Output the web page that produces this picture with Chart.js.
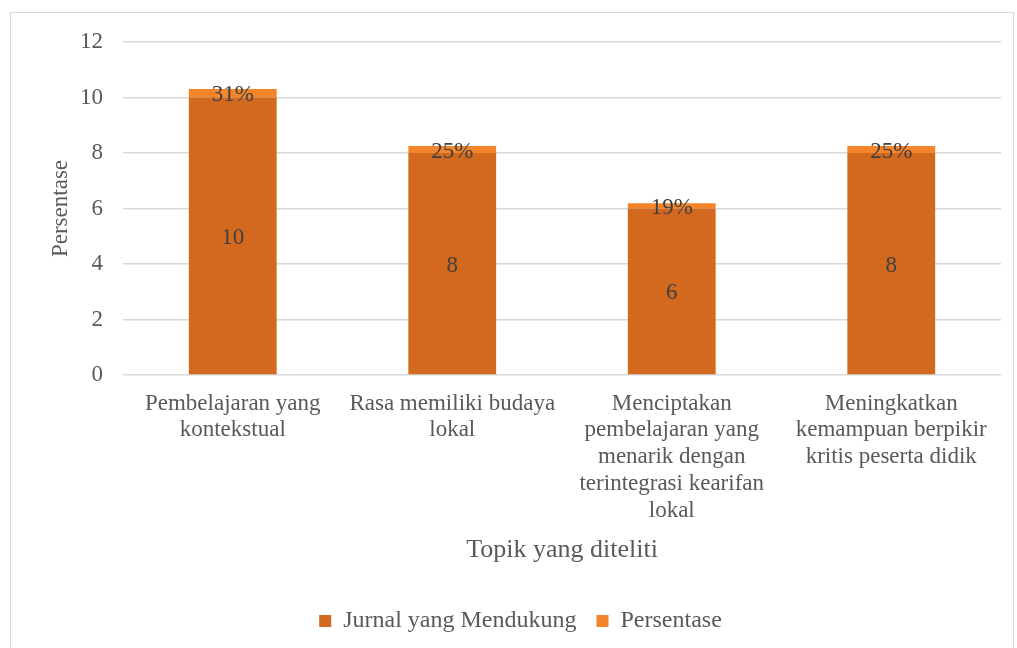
<!DOCTYPE html>
<html>
<head>
<meta charset="utf-8">
<script src="https://cdn.jsdelivr.net/npm/chart.js@4"></script>
<style>
  body { margin: 0; background: #fff; }
  #wrap { position: relative; width: 1017px; height: 648px; overflow: hidden; }
  #frame { position: absolute; left: 10px; top: 12px; width: 1004px; height: 660px; border: 1px solid #d9d9d9; box-sizing: border-box; }
  #c { position: absolute; left: 0; top: 0; }
</style>
</head>
<body>
<div id="wrap">
  <div id="frame"></div>
  <canvas id="c" width="1017" height="648"></canvas>
</div>
<script>
// data
const categories = [
    ["Pembelajaran yang", "kontekstual"],
    ["Rasa memiliki budaya", "lokal"],
    ["Menciptakan", "pembelajaran yang", "menarik dengan", "terintegrasi kearifan", "lokal"],
    ["Meningkatkan", "kemampuan berpikir", "kritis peserta didik"]
];
const jurnal = [10, 8, 6, 8];
const persentase = [0.31, 0.25, 0.19, 0.25];
const yTicks = [0, 2, 4, 6, 8, 10, 12];

const FONT = "'Liberation Serif', 'Times New Roman', serif";
const textColor = "#595959";

// tulis label di tiap batang
const barLabels = {
    id: "barLabels",
    afterDatasetsDraw(chart) {
        const ctx = chart.ctx;
        ctx.save();
        ctx.font = "23px " + FONT;
        ctx.fillStyle = "#404040";
        ctx.textAlign = "center";
        ctx.textBaseline = "middle";
        chart.data.datasets.forEach((ds, i) => {
            chart.getDatasetMeta(i).data.forEach((bar, j) => {
                const v = ds.data[j];
                const txt = i === 0 ? String(v) : Math.round(v * 100) + "%";
                const yMid = (bar.y + bar.base) / 2;
                ctx.fillText(txt, bar.x, yMid + 2);
            });
        });
        ctx.restore();
    }
};

new Chart(document.getElementById("c"), {
    type: "bar",
    data: {
        labels: categories,
        datasets: [
            { label: "Jurnal yang Mendukung", data: jurnal, backgroundColor: "#D2691E" },
            { label: "Persentase", data: persentase, backgroundColor: "#F5852A" }
        ]
    },
    options: {
        responsive: false,
        animation: false,
        layout: { padding: { left: 40, right: 16, top: 42, bottom: 5 } },
        datasets: { bar: { categoryPercentage: 1, barPercentage: 0.4 } },
        plugins: {
            legend: {
                position: "bottom",
                labels: {
                    boxWidth: 12, boxHeight: 12, padding: 20,
                    color: textColor,
                    font: { family: FONT, size: 24 }
                }
            },
            tooltip: { enabled: false }
        },
        scales: {
            x: {
                stacked: true,
                afterFit: axis => { axis.height = 214; },
                grid: { display: false },
                border: { display: false },
                ticks: {
                    color: textColor, maxRotation: 0, autoSkip: false, padding: 7,
                    font: { family: FONT, size: 23, lineHeight: 1.17 }
                },
                title: {
                    display: true, text: "Topik yang diteliti", color: textColor,
                    font: { family: FONT, size: 26 }, padding: { top: 10, bottom: 23 }
                }
            },
            y: {
                stacked: true,
                min: 0, max: 12,
                afterBuildTicks: axis => { axis.ticks = yTicks.map(v => ({ value: v })); },
                afterFit: axis => { axis.width = 83; },
                grid: { color: "#d9d9d9", lineWidth: 1.5, drawTicks: false },
                border: { display: false },
                ticks: {
                    color: textColor, padding: 20,
                    font: { family: FONT, size: 23 }
                },
                title: {
                    display: true, text: "Persentase", color: textColor,
                    font: { family: FONT, size: 23 }, padding: { top: 7, bottom: 0 }
                }
            }
        }
    },
    plugins: [barLabels]
});
</script>
</body>
</html>
